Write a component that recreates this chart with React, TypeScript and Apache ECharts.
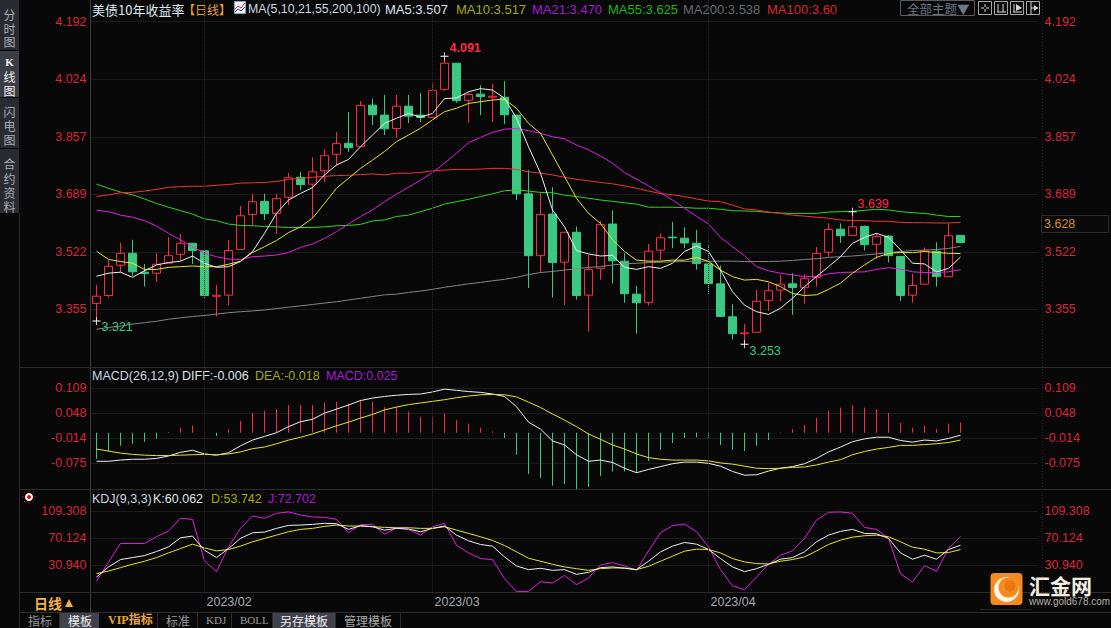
import React, { useEffect, useRef } from "react";
import * as echarts from "echarts";

const dates = [
  "2023/01/19","2023/01/20","2023/01/23","2023/01/24","2023/01/25","2023/01/26","2023/01/27","2023/01/30","2023/01/31",
  "2023/02/01","2023/02/02","2023/02/03","2023/02/06","2023/02/07","2023/02/08","2023/02/09","2023/02/10","2023/02/13","2023/02/14","2023/02/15","2023/02/16","2023/02/17","2023/02/21","2023/02/22","2023/02/23","2023/02/24","2023/02/27","2023/02/28",
  "2023/03/01","2023/03/02","2023/03/03","2023/03/06","2023/03/07","2023/03/08","2023/03/09","2023/03/10","2023/03/13","2023/03/14","2023/03/15","2023/03/16","2023/03/17","2023/03/20","2023/03/21","2023/03/22","2023/03/23","2023/03/24","2023/03/27","2023/03/28","2023/03/29","2023/03/30","2023/03/31",
  "2023/04/03","2023/04/04","2023/04/05","2023/04/06","2023/04/07","2023/04/10","2023/04/11","2023/04/12","2023/04/13","2023/04/14","2023/04/17","2023/04/18","2023/04/19","2023/04/20","2023/04/21","2023/04/24","2023/04/25","2023/04/26","2023/04/27","2023/04/28","2023/05/01","2023/05/02",
];
const blankSlots = ["", "", "", "", "", ""];
const categories = [...dates, ...blankSlots];
const monthStarts = ["2023/02/01", "2023/03/01", "2023/04/03"];

const opens = [3.372,3.395,3.483,3.518,3.463,3.460,3.489,3.515,3.547,3.525,3.393,3.396,3.529,3.631,3.669,3.634,3.681,3.739,3.719,3.758,3.806,3.838,3.829,3.949,3.920,3.881,3.946,3.920,3.913,3.995,4.071,3.963,3.981,3.972,3.972,3.920,3.691,3.511,3.632,3.492,3.579,3.396,3.474,3.603,3.495,3.399,3.375,3.527,3.565,3.562,3.547,3.487,3.429,3.333,3.284,3.288,3.381,3.411,3.429,3.418,3.448,3.521,3.588,3.570,3.596,3.544,3.568,3.509,3.396,3.428,3.524,3.450,3.570];
const closes = [3.393,3.480,3.518,3.464,3.459,3.486,3.511,3.547,3.526,3.395,3.396,3.526,3.627,3.668,3.633,3.677,3.738,3.718,3.755,3.802,3.837,3.825,3.948,3.921,3.880,3.946,3.917,3.913,3.992,4.071,3.962,3.980,3.974,3.975,3.921,3.691,3.511,3.631,3.491,3.579,3.395,3.471,3.602,3.496,3.400,3.374,3.524,3.563,3.563,3.548,3.488,3.430,3.334,3.284,3.286,3.378,3.409,3.428,3.418,3.444,3.517,3.587,3.569,3.595,3.543,3.567,3.511,3.395,3.424,3.525,3.450,3.569,3.549];
const lows = [3.321,3.389,3.462,3.452,3.421,3.435,3.489,3.495,3.487,3.386,3.334,3.366,3.529,3.599,3.615,3.574,3.658,3.702,3.621,3.726,3.773,3.813,3.827,3.891,3.862,3.854,3.897,3.900,3.913,3.991,3.956,3.897,3.920,3.900,3.894,3.673,3.417,3.463,3.389,3.368,3.383,3.290,3.441,3.430,3.374,3.284,3.366,3.498,3.533,3.533,3.470,3.400,3.334,3.267,3.253,3.288,3.351,3.379,3.339,3.371,3.421,3.508,3.548,3.570,3.526,3.502,3.491,3.379,3.374,3.428,3.421,3.448,3.549];
const highs = [3.426,3.498,3.548,3.557,3.487,3.518,3.565,3.574,3.547,3.525,3.426,3.557,3.656,3.691,3.691,3.691,3.752,3.755,3.797,3.821,3.871,3.929,3.961,3.968,3.979,3.979,3.979,3.984,4.013,4.091,4.071,3.985,4.007,4.011,4.019,3.920,3.760,3.696,3.710,3.579,3.596,3.513,3.612,3.643,3.518,3.423,3.545,3.576,3.609,3.593,3.586,3.544,3.482,3.370,3.312,3.411,3.432,3.455,3.460,3.457,3.536,3.605,3.605,3.639,3.599,3.576,3.571,3.509,3.458,3.535,3.550,3.605,3.570];

const ma5 = [3.451,3.460,3.463,3.448,3.467,3.484,3.491,3.495,3.510,3.489,3.477,3.479,3.494,3.523,3.576,3.634,3.673,3.692,3.709,3.746,3.775,3.791,3.828,3.862,3.896,3.911,3.925,3.914,3.925,3.968,3.970,3.988,3.997,3.993,3.969,3.911,3.828,3.751,3.644,3.595,3.526,3.516,3.510,3.512,3.477,3.471,3.479,3.474,3.489,3.523,3.539,3.523,3.469,3.406,3.367,3.348,3.340,3.358,3.387,3.421,3.450,3.479,3.508,3.547,3.564,3.576,3.564,3.528,3.489,3.487,3.464,3.474,3.507];
const ma10 = [3.524,3.500,3.494,3.489,3.471,3.471,3.477,3.479,3.481,3.479,3.479,3.486,3.495,3.520,3.537,3.555,3.578,3.595,3.620,3.663,3.707,3.736,3.765,3.789,3.814,3.843,3.862,3.882,3.906,3.930,3.940,3.954,3.959,3.964,3.966,3.940,3.896,3.867,3.804,3.741,3.678,3.634,3.605,3.557,3.523,3.498,3.495,3.495,3.498,3.498,3.506,3.494,3.469,3.450,3.440,3.442,3.435,3.421,3.401,3.395,3.397,3.413,3.431,3.460,3.484,3.506,3.518,3.520,3.520,3.523,3.520,3.518,3.517];
const ma21 = [3.643,3.639,3.629,3.623,3.613,3.597,3.576,3.557,3.537,3.518,3.508,3.501,3.500,3.508,3.510,3.513,3.520,3.535,3.545,3.561,3.581,3.603,3.625,3.644,3.668,3.690,3.710,3.731,3.753,3.780,3.809,3.840,3.855,3.870,3.879,3.881,3.875,3.867,3.857,3.851,3.833,3.819,3.801,3.780,3.753,3.734,3.714,3.694,3.673,3.649,3.626,3.603,3.564,3.537,3.511,3.479,3.467,3.460,3.455,3.450,3.450,3.458,3.462,3.463,3.464,3.471,3.476,3.472,3.464,3.462,3.462,3.464,3.470];
const ma55 = [3.719,3.707,3.696,3.688,3.676,3.663,3.652,3.642,3.632,3.618,3.613,3.603,3.599,3.598,3.596,3.595,3.593,3.593,3.593,3.595,3.598,3.599,3.602,3.612,3.615,3.625,3.629,3.639,3.649,3.661,3.668,3.675,3.683,3.691,3.700,3.702,3.699,3.695,3.694,3.687,3.683,3.678,3.673,3.669,3.665,3.661,3.652,3.652,3.652,3.651,3.649,3.649,3.646,3.642,3.641,3.640,3.637,3.635,3.634,3.634,3.634,3.638,3.639,3.640,3.643,3.646,3.644,3.639,3.636,3.634,3.629,3.625,3.625];
const ma100 = [3.683,3.688,3.694,3.695,3.699,3.704,3.710,3.712,3.713,3.713,3.716,3.718,3.722,3.723,3.724,3.727,3.733,3.736,3.739,3.742,3.744,3.745,3.747,3.749,3.746,3.751,3.751,3.753,3.758,3.760,3.762,3.762,3.763,3.765,3.765,3.762,3.755,3.751,3.746,3.739,3.733,3.729,3.724,3.720,3.714,3.707,3.699,3.692,3.688,3.683,3.676,3.670,3.668,3.658,3.647,3.644,3.638,3.634,3.629,3.626,3.623,3.620,3.615,3.613,3.613,3.611,3.611,3.608,3.607,3.607,3.606,3.606,3.608];
const ma200 = [3.297,3.302,3.306,3.312,3.316,3.320,3.326,3.330,3.334,3.337,3.341,3.345,3.348,3.350,3.353,3.357,3.361,3.365,3.369,3.373,3.377,3.382,3.387,3.392,3.397,3.399,3.404,3.408,3.413,3.419,3.424,3.429,3.433,3.438,3.442,3.448,3.456,3.462,3.465,3.469,3.473,3.477,3.479,3.484,3.487,3.489,3.491,3.492,3.493,3.494,3.495,3.495,3.495,3.495,3.494,3.494,3.494,3.495,3.497,3.500,3.502,3.506,3.508,3.510,3.513,3.516,3.520,3.523,3.526,3.527,3.529,3.532,3.538];

const macdBars = [-0.064,-0.046,-0.032,-0.027,-0.022,-0.014,0.002,0.012,0.018,0.001,-0.008,0.008,0.029,0.049,0.054,0.058,0.068,0.068,0.068,0.074,0.076,0.071,0.081,0.076,0.063,0.063,0.052,0.039,0.039,0.047,0.031,0.022,0.012,0.003,-0.013,-0.054,-0.101,-0.111,-0.130,-0.126,-0.138,-0.133,-0.106,-0.095,-0.095,-0.098,-0.069,-0.042,-0.025,-0.013,-0.011,-0.015,-0.030,-0.042,-0.045,-0.032,-0.018,0.001,0.009,0.019,0.036,0.054,0.061,0.068,0.061,0.058,0.049,0.024,0.012,0.017,0.009,0.022,0.025];
const diff = [-0.070,-0.070,-0.067,-0.065,-0.065,-0.063,-0.057,-0.048,-0.043,-0.052,-0.055,-0.049,-0.032,-0.018,-0.009,0,0.015,0.027,0.033,0.048,0.058,0.068,0.079,0.085,0.089,0.092,0.094,0.095,0.100,0.107,0.104,0.101,0.099,0.095,0.089,0.064,0.026,0.009,-0.020,-0.030,-0.054,-0.070,-0.067,-0.073,-0.087,-0.098,-0.090,-0.083,-0.076,-0.072,-0.072,-0.075,-0.082,-0.095,-0.104,-0.103,-0.094,-0.087,-0.083,-0.076,-0.063,-0.047,-0.035,-0.022,-0.015,-0.011,-0.011,-0.019,-0.023,-0.018,-0.020,-0.014,-0.006];
const dea = [-0.040,-0.045,-0.050,-0.053,-0.055,-0.056,-0.056,-0.055,-0.054,-0.053,-0.054,-0.052,-0.047,-0.039,-0.035,-0.027,-0.018,-0.011,-0.003,0.007,0.017,0.026,0.036,0.045,0.056,0.063,0.069,0.073,0.077,0.081,0.086,0.090,0.093,0.094,0.093,0.088,0.075,0.062,0.046,0.031,0.015,-0.003,-0.016,-0.030,-0.040,-0.052,-0.061,-0.065,-0.067,-0.067,-0.067,-0.069,-0.074,-0.077,-0.082,-0.087,-0.088,-0.087,-0.085,-0.084,-0.079,-0.072,-0.066,-0.054,-0.046,-0.040,-0.036,-0.031,-0.031,-0.029,-0.027,-0.024,-0.018];

const kdjK = [13.9,28.5,39.2,42.1,45.0,50.9,57.7,70.8,73.3,52.8,42.1,55.2,69.9,78.1,79.1,84.5,88.8,89.3,90.3,91.8,91.3,83.0,88.4,86.9,82.0,84.5,83.5,79.6,84.5,87.9,74.7,66.5,61.1,58.7,43.1,29.9,24.6,26.5,23.6,24.6,17.8,20.7,27.5,28.5,26.5,24.6,36.8,50.4,58.7,64.0,61.6,53.8,40.7,28.5,21.7,26.0,32.4,39.7,42.1,50.4,65.0,74.7,80.1,83.0,77.2,76.7,69.9,48.9,39.7,45.5,39.7,53.8,60.062];
const kdjD = [18.8,22.6,27.5,32.4,36.8,42.1,48.9,55.2,61.6,56.2,51.8,53.8,58.7,65.0,69.9,74.7,79.6,83.0,84.5,87.4,89.3,87.9,87.9,86.9,85.9,85.4,85.4,84.5,84.5,86.9,82.0,77.2,72.3,67.0,59.6,50.4,41.1,36.8,32.4,28.5,26.0,23.6,26.0,27.0,27.0,24.6,29.4,36.8,44.1,51.4,54.3,53.8,48.9,40.7,35.8,33.4,32.9,36.8,39.2,43.1,51.8,61.1,67.4,71.8,73.8,74.7,72.3,65.0,57.2,54.3,48.9,49.4,53.742];
const kdjJ = [8.0,35.3,62.6,62.6,62.6,72.3,80.6,99.1,97.6,37.2,21.7,57.7,84.5,102.5,99.1,106.4,108.3,103.9,101.0,100.5,97.6,78.1,89.8,90.3,76.2,85.0,83.0,74.7,86.9,91.8,60.1,48.9,40.7,39.2,11.4,-7.0,-7.0,7.0,5.1,16.3,2.7,12.4,31.4,34.8,30.0,23.6,51.8,78.1,88.4,90.8,79.6,57.7,24.6,1.2,-4.6,13.9,32.4,45.5,51.8,69.9,96.6,107.8,108.3,106.4,85.9,83.0,69.9,18.8,6.6,30.4,22.2,55.2,72.702];

const priceTicks = [3.355, 3.522, 3.689, 3.857, 4.024, 4.192];
const macdTicks = [-0.075, -0.014, 0.048, 0.109];
const kdjTicks = [30.94, 70.124, 109.308];
const priceRange = [3.187, 4.255];
const macdRange = [-0.1387, 0.1605];
const kdjRange = [-8.3, 141.2];
const extremes = [
  { index: 29, value: 4.091, color: "#ff2a45", bold: true, offset: [1, -8] },
  { index: 0, value: 3.321, color: "#3bc982", bold: false, offset: [1, 6] },
  { index: 54, value: 3.253, color: "#3bc982", bold: false, offset: [1, 7] },
  { index: 63, value: 3.639, color: "#ff2a45", bold: false, offset: [1, -8] },
];

const BG = "#080808";
const RED = "#ff2a45";
const GREEN = "#3bc982";
const TICK = "#d9263d";
const GRIDLINE = "#2e2e2e";
const LATIN = '"Liberation Sans", "Noto Sans CJK SC", sans-serif';
const CJK = '"Noto Sans CJK SC", "Liberation Sans", sans-serif';
const SERIF = '"Liberation Serif", "Noto Sans CJK SC", serif';

const rect = (x: number, y: number, w: number, h: number, fill: string, stroke?: string, r = 0) => ({
  type: "rect", silent: true, shape: { x, y, width: w, height: h, r },
  style: { fill, stroke: stroke || undefined, lineWidth: 1 },
});
const hline = (x1: number, x2: number, y: number, stroke: string, dash?: number[]) => ({
  type: "line", silent: true, shape: { x1, y1: y, x2, y2: y }, style: { stroke, lineWidth: 1, lineDash: dash },
});
const vline = (x: number, y1: number, y2: number, stroke: string, dash?: number[]) => ({
  type: "line", silent: true, shape: { x1: x, y1, x2: x, y2 }, style: { stroke, lineWidth: 1, lineDash: dash },
});
const txt = (x: number, y: number, text: string, fill: string, font = `13px ${LATIN}`, align = "left") => ({
  type: "text", silent: true, style: { x, y, text, fill, font, align, verticalAlign: "middle" },
});
const poly = (points: number[][], stroke: string, lineWidth = 1) => ({
  type: "polyline", silent: true, shape: { points }, style: { stroke, lineWidth, fill: "none" },
});

function chrome(): any[] {
  const items: any[] = [];
  // side tabs
  items.push(rect(0, 0, 19, 50, "#2a2b30"), rect(0, 51, 19, 46, "#3b3d44"), rect(0, 98, 19, 50, "#2a2b30"), rect(0, 149, 19, 64, "#2a2b30"));
  items.push(vline(19.5, 213, 628, "#2a2a2a"), vline(90.5, 0, 612, "#3a3a3a"));
  const side = (y: number, c: string, fill: string, font = `12px ${CJK}`) => txt(9.5, y, c, fill, font, "center");
  [[14, "分"], [28, "时"], [41.5, "图"], [111, "闪"], [125.5, "电"], [139.5, "图"], [163, "合"], [178, "约"], [192.5, "资"], [206.5, "料"]].forEach(([y, c]) =>
    items.push(side(y as number, c as string, "#a9adb3")));
  items.push(side(62, "K", "#f2f2f2", `bold 11px ${SERIF}`), side(76.5, "线", "#f2f2f2"), side(90.5, "图", "#f2f2f2"));

  // panel dividers
  [367.5, 489.5, 592.5, 612.5].forEach((y) => items.push(hline(20, 1111, y, "#2c2c2c")));
  items.push(vline(1042.5, 0, 592, "#262626", [1, 2]));

  // title row
  items.push(txt(92, 9, "美债10年收益率", "#dfe8ef", `13px ${CJK}`));
  items.push(txt(183, 9, "【日线】", "#e9a23a", `12px ${CJK}`));
  items.push(rect(234.5, 1.5, 11, 12, "#f4f4f4", "#8aa0c0"));
  items.push(poly([[235, 9], [238, 6], [241, 8], [245, 3]], "#e02020"));
  items.push(poly([[235, 12], [238, 9], [241, 11], [245, 7]], "#2040c0"));
  items.push(txt(248, 9, "MA(5,10,21,55,200,100)", "#cdd9e4", `12.3px ${LATIN}`));
  items.push(txt(385, 9, "MA5:3.507", "#dfe6ec"));
  items.push(txt(456, 9, "MA10:3.517", "#a6ab00"));
  items.push(txt(532, 9, "MA21:3.470", "#a61ad6"));
  items.push(txt(608, 9, "MA55:3.625", "#18b818"));
  items.push(txt(683, 9, "MA200:3.538", "#666a6e"));
  items.push(txt(767, 9, "MA100:3.60", "#d42a2a"));

  // theme selector and icons
  items.push(rect(900.5, 0.5, 74, 15, BG, "#5a5a5a"));
  items.push(txt(907, 8.5, "全部主题▼", "#6c7884", `12.5px ${CJK}`));
  [978.5, 994.5, 1010.5, 1026.5].forEach((x) => items.push(rect(x, 1.5, 13, 13, BG, "#a8a8a8")));
  items.push(hline(981, 984, 8, "#d8d8d8"), hline(986, 989, 8, "#d8d8d8"), vline(985, 4, 7, "#d8d8d8"), vline(985, 9, 12, "#d8d8d8"));
  items.push(vline(998, 4, 12, "#d8d8d8"), vline(1003, 4, 12, "#d8d8d8"), hline(997, 1006, 12, "#d8d8d8"));
  items.push(vline(1014, 4, 12, "#d8d8d8"), hline(1013, 1022, 12, "#d8d8d8"));
  items.push({ type: "polygon", silent: true, shape: { points: [[1016, 4], [1022, 8], [1016, 11]] }, style: { fill: "#d8d8d8" } });
  items.push(vline(1031, 2, 14, "#d8d8d8"), hline(1031, 1038, 8, "#d8d8d8"));
  items.push({ type: "polygon", silent: true, shape: { points: [[1034, 5], [1038, 8], [1034, 11]] }, style: { fill: "#d8d8d8" } });

  // last price box
  items.push(rect(1041.5, 215.5, 67, 17, "#0a0a0a", "#2c2c2c"));
  items.push(txt(1044, 223.5, "3.628", "#d98a2b", `12.5px ${LATIN}`));

  // sub panel captions
  const cap = `12.5px ${LATIN}`;
  items.push(txt(92, 376, "MACD(26,12,9)", "#cdd9e4", cap), txt(182, 376, "DIFF:-0.006", "#dfe6ec", cap), txt(255, 376, "DEA:-0.018", "#a6ab00", cap), txt(326, 376, "MACD:0.025", "#a61ad6", cap));
  items.push(txt(92, 499, "KDJ(9,3,3)", "#cdd9e4", cap), txt(153, 499, "K:60.062", "#dfe6ec", cap), txt(211, 499, "D:53.742", "#a6ab00", cap), txt(268, 499, "J:72.702", "#a61ad6", cap));

  // alarm dot
  items.push({ type: "circle", silent: true, shape: { cx: 29, cy: 497, r: 4 }, style: { fill: "#ffffff" } });
  items.push({ type: "circle", silent: true, shape: { cx: 29, cy: 497, r: 2 }, style: { fill: "#e01010" } });
  [[22, 497, 23.5, 497], [34.5, 497, 36, 497], [29, 490, 29, 491.5], [29, 502.5, 29, 504], [24, 492, 25, 493], [33, 501, 34, 502], [33, 493, 34, 492], [24, 502, 25, 501]].forEach(([x1, y1, x2, y2]) =>
    items.push({ type: "line", silent: true, shape: { x1, y1, x2, y2 }, style: { stroke: "#e01010", lineWidth: 1 } }));

  // period cell and bottom tabs
  items.push(txt(34, 603, "日线", "#f3b04c", `bold 14px ${CJK}`));
  items.push({ type: "polygon", silent: true, shape: { points: [[65, 607], [73, 607], [69, 599]] }, style: { fill: "#f3b04c" } });
  items.push(rect(60, 613, 39, 15, "#40424c"), rect(272, 613, 63, 15, "#40424c"));
  [59.5, 157.5, 197.5, 231.5, 272.5, 335.5, 400.5].forEach((x) => items.push(vline(x, 613, 628, "#2c2c2c")));
  items.push(txt(28, 620, "指标", "#9a9a9a", `12px ${CJK}`), txt(68, 620, "模板", "#f0f0f0", `12px ${CJK}`));
  items.push(txt(108, 620, "VIP指标", "#e8a53a", `bold 12px ${SERIF}`), txt(166, 620, "标准", "#9a9a9a", `12px ${CJK}`));
  items.push(txt(206, 620, "KDJ", "#9a9a9a", `11px ${SERIF}`), txt(240, 620, "BOLL", "#9a9a9a", `11px ${SERIF}`));
  items.push(txt(280, 620, "另存模板", "#f0f0f0", `12px ${CJK}`), txt(344, 620, "管理模板", "#a8a8a8", `12px ${CJK}`));

  // logo
  items.push(rect(990.5, 573, 32, 32, "#f58a1f", undefined, 4));
  items.push({ type: "circle", silent: true, shape: { cx: 1006.5, cy: 589.5, r: 12.5 }, style: { fill: "#fff4e6" } });
  items.push({ type: "circle", silent: true, shape: { cx: 1008.5, cy: 587.5, r: 10 }, style: { fill: "#f58a1f" } });
  items.push({ type: "circle", silent: true, shape: { cx: 1010, cy: 586, r: 5.5 }, style: { fill: "#e8780f" } });
  items.push(txt(1029, 585, "汇金网", "#f3ede2", `bold 21px ${CJK}`));
  items.push(txt(1029, 601.5, "www.gold678.com", "#b5b0a8", `10px ${LATIN}`));
  items.push(hline(980, 1032, 609.5, "#262626"));
  return items;
}

const monthLine = (data: any[]) => ({
  silent: true, symbol: "none", animation: false, label: { show: false },
  lineStyle: { color: "#272727", type: "dotted", width: 1 },
  data,
});

export default function App() {
  const ref = useRef<HTMLDivElement>(null);
  useEffect(() => {
    document.body.style.margin = "0";
    document.body.style.background = BG;
    const chart = echarts.init(ref.current!, null, { renderer: "svg" });
    const grids = [
      { left: 90.5, width: 948, top: 0, height: 367 },
      { left: 90.5, width: 948, top: 367.3, height: 122 },
      { left: 90.5, width: 948, top: 489.3, height: 103 },
    ];
    const xAxis = grids.map((_, g) => ({
      type: "category", gridIndex: g, data: categories, boundaryGap: true,
      axisLine: { show: false }, axisTick: { show: false }, splitLine: { show: false },
      axisLabel: g === 2
        ? {
            show: true, interval: (i: number) => monthStarts.includes(categories[i]), margin: 3,
            align: "left", padding: [0, 0, 0, 2], color: "#a3abb3", fontSize: 12.5, fontFamily: LATIN,
            formatter: (v: string) => v.slice(0, 7),
          }
        : { show: false },
    }));
    const yPair = (g: number, range: number[], ticks: number[], padding: number[]) => {
      const base = {
        type: "value", gridIndex: g, min: range[0], max: range[1], scale: true,
        axisTick: { show: false, customValues: ticks },
      };
      const label = {
        customValues: ticks, color: TICK, fontSize: 12.5, fontFamily: LATIN, padding,
        formatter: (v: number) => v.toFixed(3),
      };
      return [
        { ...base, position: "left", axisLine: { show: false }, axisLabel: { ...label, margin: 4 },
          splitLine: { show: true, lineStyle: { color: GRIDLINE, type: "dotted", width: 1 } } },
        { ...base, position: "right", axisLine: { show: false }, axisLabel: { ...label, margin: 6 }, splitLine: { show: false } },
      ];
    };
    const line = (name: string, data: number[], color: string, xi: number, yi: number, extra: any = {}) => ({
      name, type: "line", data, xAxisIndex: xi, yAxisIndex: yi, symbol: "none", smooth: false, silent: true,
      lineStyle: { color, width: 1 }, itemStyle: { color }, z: 3, ...extra,
    });
    const monthMarks = monthStarts.map((d) => ({ xAxis: d }));
    const option: any = {
      animation: false,
      backgroundColor: BG,
      tooltip: { show: false },
      grid: grids,
      xAxis,
      yAxis: [
        ...yPair(0, priceRange, priceTicks, [0, 0, 2, 0]),
        ...yPair(1, macdRange, macdTicks, [0, 0, 1, 0]),
        ...yPair(2, kdjRange, kdjTicks, [0, 0, 0, 0]),
      ],
      series: [
        {
          name: "K", type: "candlestick", xAxisIndex: 0, yAxisIndex: 0, barWidth: 9, silent: true, z: 2,
          data: opens.map((o, i) => [o, closes[i], lows[i], highs[i]]),
          itemStyle: { color: BG, color0: GREEN, borderColor: RED, borderColor0: GREEN, borderWidth: 1 },
          markLine: monthLine(monthMarks),
        },
        line("MA200", ma200, "#858585", 0, 0),
        line("MA55", ma55, "#33d41e", 0, 0),
        line("MA100", ma100, "#f03232", 0, 0),
        line("MA21", ma21, "#e021e0", 0, 0),
        line("MA10", ma10, "#e6e620", 0, 0),
        line("MA5", ma5, "#f0f0f0", 0, 0),
        {
          name: "extremes", type: "scatter", xAxisIndex: 0, yAxisIndex: 0, silent: true, z: 5,
          symbol: "path://M0,4.5 H10 V5.5 H0 Z M4.5,1 H5.5 V9 H4.5 Z", symbolSize: 8,
          itemStyle: { color: "#ffffff", opacity: 1 },
          data: extremes.map((e) => ({
            value: [dates[e.index], e.value],
            label: {
              show: true, position: "right", distance: 0, offset: e.offset, formatter: e.value.toFixed(3),
              color: e.color, fontSize: 12.5, fontWeight: e.bold ? "bold" : "normal", fontFamily: LATIN,
            },
          })),
        },
        {
          name: "MACD", type: "bar", xAxisIndex: 1, yAxisIndex: 2, data: macdBars, barWidth: 1, silent: true, z: 2,
          itemStyle: { color: (p: any) => (p.value >= 0 ? RED : GREEN) },
          markLine: monthLine(monthMarks),
        },
        line("DIFF", diff, "#f0f0f0", 1, 2),
        line("DEA", dea, "#e6e620", 1, 2),
        line("J", kdjJ, "#e021e0", 2, 4, { markLine: monthLine(monthMarks) }),
        line("D", kdjD, "#e6e620", 2, 4),
        line("K", kdjK, "#f0f0f0", 2, 4),
      ],
      graphic: { elements: chrome() },
    };
    chart.setOption(option);
    return () => chart.dispose();
  }, []);
  return <div ref={ref} style={{ position: "absolute", left: 0, top: 0, width: 1111, height: 628, background: BG }} />;
}
